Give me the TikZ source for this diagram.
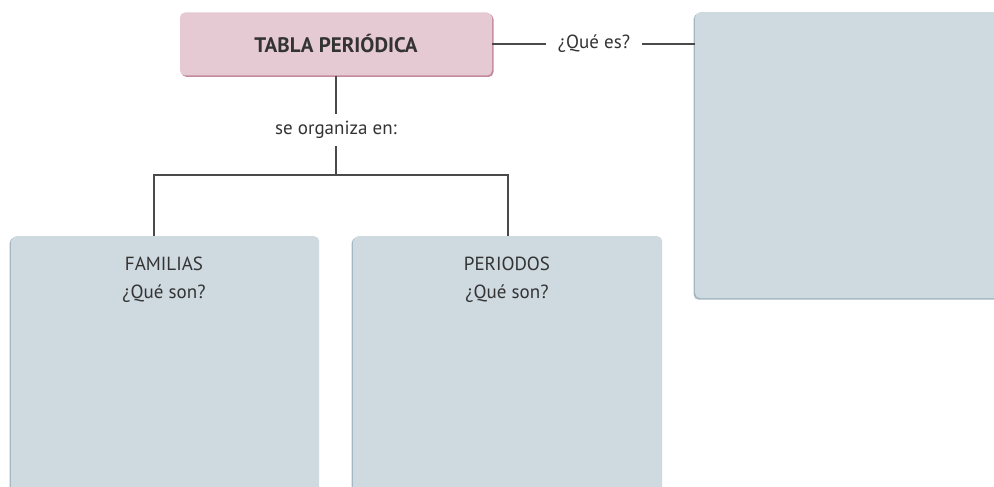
\documentclass[tikz,border=0pt]{standalone}
\usepackage{fontspec}
\setmainfont{PT Sans}
\usetikzlibrary{positioning,shadows}
\definecolor{pinkfill}{HTML}{E6CAD3}
\definecolor{pinkedge}{HTML}{C48A9C}
\definecolor{bluefill}{HTML}{CED9E0}
\definecolor{blueedge}{HTML}{A4B7C2}
\definecolor{linegray}{HTML}{4A4A4A}
\definecolor{textgray}{HTML}{333333}
\tikzset{
  titlebox/.style={fill=pinkfill, rounded corners=5pt, minimum width=312pt, minimum height=63pt,
    text=textgray, font=\bfseries\fontsize{21}{25}\selectfont,
    drop shadow={shadow xshift=1.5pt, shadow yshift=-1.5pt, fill=pinkedge, opacity=1}},
  infobox/.style={fill=bluefill, rounded corners=5pt, anchor=north west,
    drop shadow={shadow xshift=-1.5pt, shadow yshift=-1.5pt, fill=blueedge, opacity=1}},
  boxtext/.style={text=textgray, align=center, font=\fontsize{19}{28}\selectfont, anchor=north},
  linktext/.style={text=textgray, font=\fontsize{19}{23}\selectfont, inner xsep=12pt, inner ysep=7pt},
  link/.style={draw=linegray, line width=1.6pt}
}
\begin{document}
\begin{tikzpicture}[x=1pt,y=-1pt]
\clip (0,0) rectangle (994,487);
% boxes
\node[titlebox] (tabla) at (336,44) {TABLA PERIÓDICA};
\node[infobox, minimum width=320pt, minimum height=286pt] (quees_box) at (695,12) {};
\node[infobox, minimum width=308pt, minimum height=270pt] (fam) at (11,236) {};
\node[infobox, minimum width=309pt, minimum height=270pt] (per) at (353,236) {};
\node[boxtext] (fam_txt) at (164,253) {FAMILIAS\\¿Qué son?};
\node[boxtext] (per_txt) at (507,253) {PERIODOS\\¿Qué son?};
% links
\node[linktext] (quees) at (594,44) {¿Qué es?};
\node[linktext] (org) at (336,130) {se organiza en:};
\coordinate (split) at (336,175);
\coordinate (famjoin) at (154,236);
\draw[link] (tabla.east) -- (quees.west);
\draw[link] (quees.east) -- (quees.east -| quees_box.west);
\draw[link] (tabla.south) -- (org.north);
\draw[link] (org.south) -- (split);
\draw[link] (famjoin) |- (split) -| (per.north);
\end{tikzpicture}
\end{document}
